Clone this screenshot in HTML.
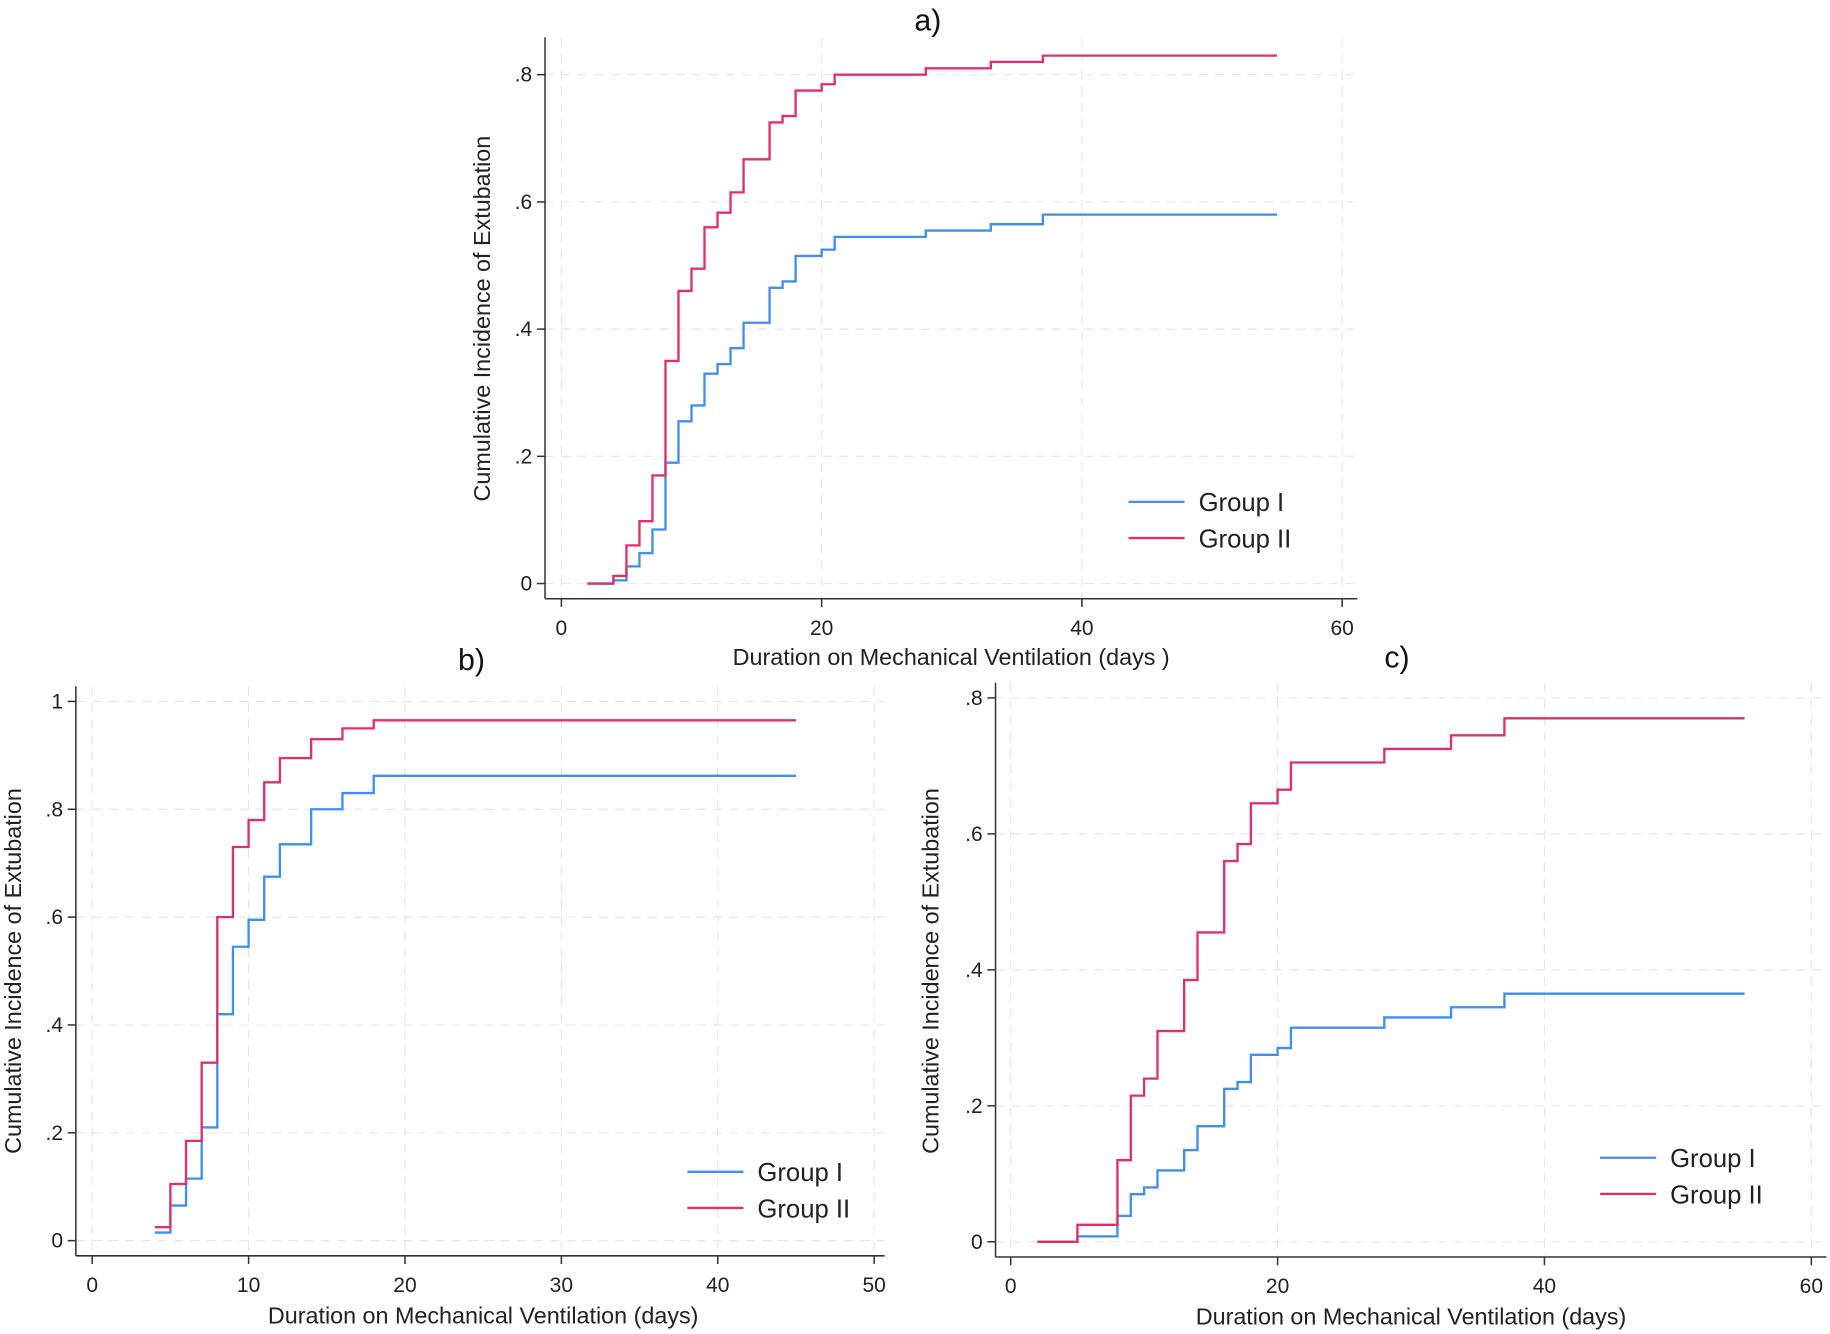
<!DOCTYPE html>
<html><head><meta charset="utf-8"><style>
html,body{margin:0;padding:0;background:#fff;}
svg{display:block;font-family:"Liberation Sans",Arial,sans-serif;}
</style></head><body>
<svg id="chart" width="1830" height="1334" viewBox="0 0 1568 1143" preserveAspectRatio="none" xmlns="http://www.w3.org/2000/svg"></svg>
<script>
// Panel a data
const aTimesII = [2,4,5,6,7,8,9,10,11,12,13,14,16,17,18,20,21,28,33,37,55];
const aValsII  = [0,0.012,0.06,0.098,0.17,0.35,0.46,0.495,0.56,0.583,0.615,0.667,0.725,0.735,0.775,0.785,0.80,0.81,0.82,0.83,0.83];
const aTimesI  = [2,4,5,6,7,8,9,10,11,12,13,14,16,17,18,20,21,28,33,37,55];
const aValsI   = [0,0.005,0.027,0.048,0.085,0.19,0.255,0.28,0.33,0.345,0.37,0.41,0.465,0.475,0.515,0.525,0.545,0.555,0.565,0.58,0.58];
const aXTicks = [0,20,40,60];
const aYTicks = [0,0.2,0.4,0.6,0.8];
const aYLabels = ["0",".2",".4",".6",".8"];
// Panel b data
const bTimesII = [4,5,6,7,8,9,10,11,12,14,16,18,45];
const bValsII  = [0.025,0.105,0.185,0.33,0.60,0.73,0.78,0.85,0.895,0.93,0.95,0.965,0.965];
const bTimesI  = [4,5,6,7,8,9,10,11,12,14,16,18,45];
const bValsI   = [0.015,0.065,0.115,0.21,0.42,0.545,0.595,0.675,0.735,0.80,0.83,0.862,0.862];
const bXTicks = [0,10,20,30,40,50];
const bYTicks = [0,0.2,0.4,0.6,0.8,1];
const bYLabels = ["0",".2",".4",".6",".8","1"];
// Panel c data
const cTimesII = [2,5,8,9,10,11,13,14,16,17,18,20,21,28,33,37,55];
const cValsII  = [0,0.025,0.12,0.215,0.24,0.31,0.385,0.455,0.56,0.585,0.645,0.665,0.705,0.725,0.745,0.77,0.77];
const cTimesI  = [2,5,8,9,10,11,13,14,16,17,18,20,21,28,33,37,55];
const cValsI   = [0,0.008,0.038,0.07,0.08,0.105,0.135,0.17,0.225,0.235,0.275,0.285,0.315,0.33,0.345,0.365,0.365];
const cXTicks = [0,20,40,60];
const cYTicks = [0,0.2,0.4,0.6,0.8];
const cYLabels = ["0",".2",".4",".6",".8"];

const NS="http://www.w3.org/2000/svg";
const svg=document.getElementById('chart');
const BLUE="#3f8ef0", RED="#e0306a";
function mk(tag,attrs,parent){const e=document.createElementNS(NS,tag);for(const k in attrs)e.setAttribute(k,attrs[k]);(parent||svg).appendChild(e);return e;}

function panel(p){
  const g=mk('g',{});
  
  
  const sx=v=>p.x0+(v-p.xmin)/(p.xmax-p.xmin)*(p.x1-p.x0);
  const sy=v=>p.y0+(v-p.ymin)/(p.ymax-p.ymin)*(p.y1-p.y0);
  p.xt.forEach(t=>{const l=mk('line',{x1:sx(t),x2:sx(t),y1:p.top,y2:p.axY,stroke:'#e6e6e6','stroke-width':1,'stroke-dasharray':'8,6'},g);
    
    });
  p.yt.forEach(t=>{const l=mk('line',{x1:p.axX,x2:p.right,y1:sy(t),y2:sy(t),stroke:'#e6e6e6','stroke-width':1,'stroke-dasharray':'8,6'},g);
    
    });
  const ya=mk('line',{x1:p.axX,x2:p.axX,y1:p.top,y2:p.axY,stroke:'#333','stroke-width':1.3},g);
  
  
  const xa=mk('line',{x1:p.axX,x2:p.right,y1:p.axY,y2:p.axY,stroke:'#333','stroke-width':1.3},g);
  
  
  p.xt.forEach(t=>{mk('line',{x1:sx(t),x2:sx(t),y1:p.axY,y2:p.axY+7,stroke:'#333','stroke-width':1.3},g);
    const tx=mk('text',{x:sx(t),y:p.axY+31,'text-anchor':'middle','font-size':18,fill:'#222'},g);tx.textContent=t;
    
    });
  p.yt.forEach((t,i)=>{mk('line',{x1:p.axX-7,x2:p.axX,y1:sy(t),y2:sy(t),stroke:'#333','stroke-width':1.3},g);
    const tx=mk('text',{x:p.axX-11,y:sy(t)+6,'text-anchor':'end','font-size':18,fill:'#222'},g);tx.textContent=p.yl[i];
    
    });
  function step(ts,vs,color,name){
    let d='M'+sx(ts[0])+','+sy(vs[0]);
    for(let i=1;i<ts.length;i++){d+=' H'+sx(ts[i])+' V'+sy(vs[i]);}
    const pa=mk('path',{d:d,fill:'none',stroke:color,'stroke-width':2},g);
    
    
  }
  step(p.tI,p.vI,BLUE,'series-group-i');
  step(p.tII,p.vII,RED,'series-group-ii');
  const ti=mk('text',{x:p.tx,y:p.ty,'text-anchor':'middle','font-size':26,fill:'#111'},g);ti.textContent=p.id+')';
  
  
  const xl=mk('text',{x:p.xlx,y:p.xly,'text-anchor':'middle','font-size':20,fill:'#222'},g);xl.textContent=p.xlabel;
  
  
  const yl=mk('text',{x:0,y:0,'text-anchor':'middle','font-size':20,fill:'#222',transform:'translate('+p.ylx+','+p.yly+') rotate(-90)'},g);yl.textContent='Cumulative Incidence of Extubation';
  
  
  [['Group I',BLUE,p.lgy],['Group II',RED,p.lgy+31]].forEach(([lab,col,y])=>{
    const lg=mk('g',{},g);
    
    
    mk('line',{x1:p.lgx,x2:p.lgx+48,y1:y,y2:y,stroke:col,'stroke-width':2},lg);
    const t=mk('text',{x:p.lgx+60,y:y+8,'font-size':22,fill:'#222'},lg);t.textContent=lab;
  });
}

panel({id:'a',xmin:0,xmax:60,x0:481,x1:1150,ymin:0,ymax:0.8,y0:500,y1:64,axX:467,axY:513,top:32,right:1163,
  xt:aXTicks,yt:aYTicks,yl:aYLabels,tI:aTimesI,vI:aValsI,tII:aTimesII,vII:aValsII,
  tx:795,ty:26,xlx:815,xly:570,xlabel:'Duration on Mechanical Ventilation (days )',ylx:420,yly:273,lgx:967,lgy:430});
panel({id:'b',xmin:0,xmax:50,x0:79,x1:749,ymin:0,ymax:1,y0:1063,y1:601,axX:65,axY:1076,top:588,right:758,
  xt:bXTicks,yt:bYTicks,yl:bYLabels,tI:bTimesI,vI:bValsI,tII:bTimesII,vII:bValsII,
  tx:404,ty:574,xlx:414,xly:1134,xlabel:'Duration on Mechanical Ventilation (days)',ylx:18,yly:832,lgx:589,lgy:1004});
panel({id:'c',xmin:0,xmax:60,x0:866,x1:1552,ymin:0,ymax:0.8,y0:1064,y1:598,axX:853,axY:1077,top:585,right:1565,
  xt:cXTicks,yt:cYTicks,yl:cYLabels,tI:cTimesI,vI:cValsI,tII:cTimesII,vII:cValsII,
  tx:1197,ty:572,xlx:1209,xly:1135,xlabel:'Duration on Mechanical Ventilation (days)',ylx:804,yly:832,lgx:1371,lgy:992});
</script>
</body></html>
